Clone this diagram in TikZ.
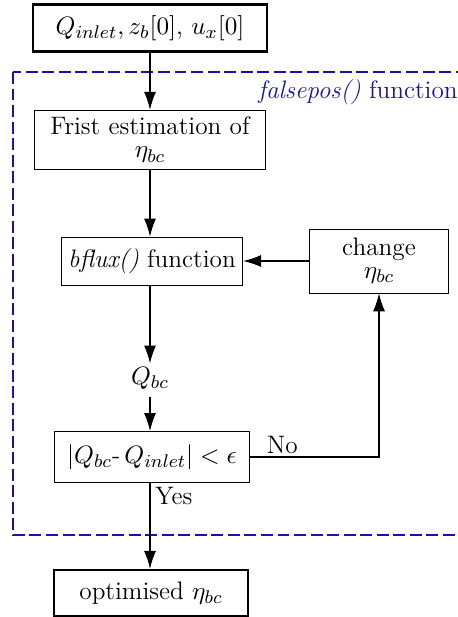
\documentclass[tikz,border=0pt]{standalone}
\usepackage{amsmath,amssymb}
\usetikzlibrary{arrows.meta}
\definecolor{loopblue}{RGB}{20,20,165}
\tikzset{
  flow arrow/.style={
    -{Latex[length=7.8pt,width=5.2pt]},  % arrow tip style
    line width=0.5pt,
  },
  io box/.style={draw, line width=1pt, inner sep=3pt},
  step box/.style={draw, line width=0.4pt, align=center, inner sep=3pt}
}

\begin{document}
\begin{tikzpicture}[x=0.0153cm, y=-0.0153cm, font=\fontsize{11}{12.5}\selectfont]
    % Frame
    \useasboundingbox (0,0) rectangle (458,617);
    \clip (0,0) rectangle (458,617);

    % Loop region
    \draw[loopblue, dash pattern=on 5.2pt off 2pt, line width=0.9pt] (13,72) rectangle (480,535);
    \node[loopblue, anchor=west, inner sep=0pt] (lbl) at (258,92) {\textit{falsepos()} function};

    % Boxes
    \node[io box, minimum width=234pt*0.435, minimum height=47pt*0.435] (inp) at (150,28) {$Q_{inlet}, z_b[0]$, $u_x[0]$};
    \node[step box, minimum width=232pt*0.435, minimum height=55pt*0.435] (est) at (150,140) {Frist estimation of\\[-2.5pt]$\eta_{bc}$};
    \node[step box, minimum width=179pt*0.435, minimum height=48pt*0.435] (bfx) at (152,261) {\textit{bflux()} function};
    \node[step box, minimum width=139pt*0.435, minimum height=64pt*0.435] (chg) at (379,261) {change\\[-2.5pt]$\eta_{bc}$};
    \node (qbc) at (150,378) {$Q_{bc}$};
    \node[step box, minimum width=196pt*0.435, minimum height=51pt*0.435] (cnd) at (152,457) {$|Q_{bc}$-$\,Q_{inlet}| < \epsilon$};
    \node[io box, minimum width=194pt*0.435, minimum height=46pt*0.435] (out) at (151,593) {optimised $\eta_{bc}$};
    \coordinate (corner) at (cnd.east -| chg.south);
    \coordinate (yestop) at (cnd.south -| qbc);
    \coordinate (yesend) at (yestop |- out.north);

    % Connectors
    \draw[flow arrow] (inp.south) -- (inp.south |- est.north);
    \draw[flow arrow] (est.south) -- (est.south |- bfx.north);
    \draw[flow arrow] (chg.west) -- (bfx.east);
    \draw[flow arrow] (bfx.south -| qbc) -- ([yshift=-2pt]qbc.north);
    \draw[flow arrow] (qbc.south) -- (qbc.south |- cnd.north);
    \draw[flow arrow] (cnd.east) -- (corner) -- (chg.south);
    \draw[flow arrow] (yestop) -- (yesend);
    \node[anchor=south west, inner sep=1pt] (no) at ([xshift=6pt]cnd.east) {No};
    \node[anchor=north west, inner sep=1.5pt] (yes) at ([xshift=0.5pt]yestop) {Yes};
\end{tikzpicture}
\end{document}
